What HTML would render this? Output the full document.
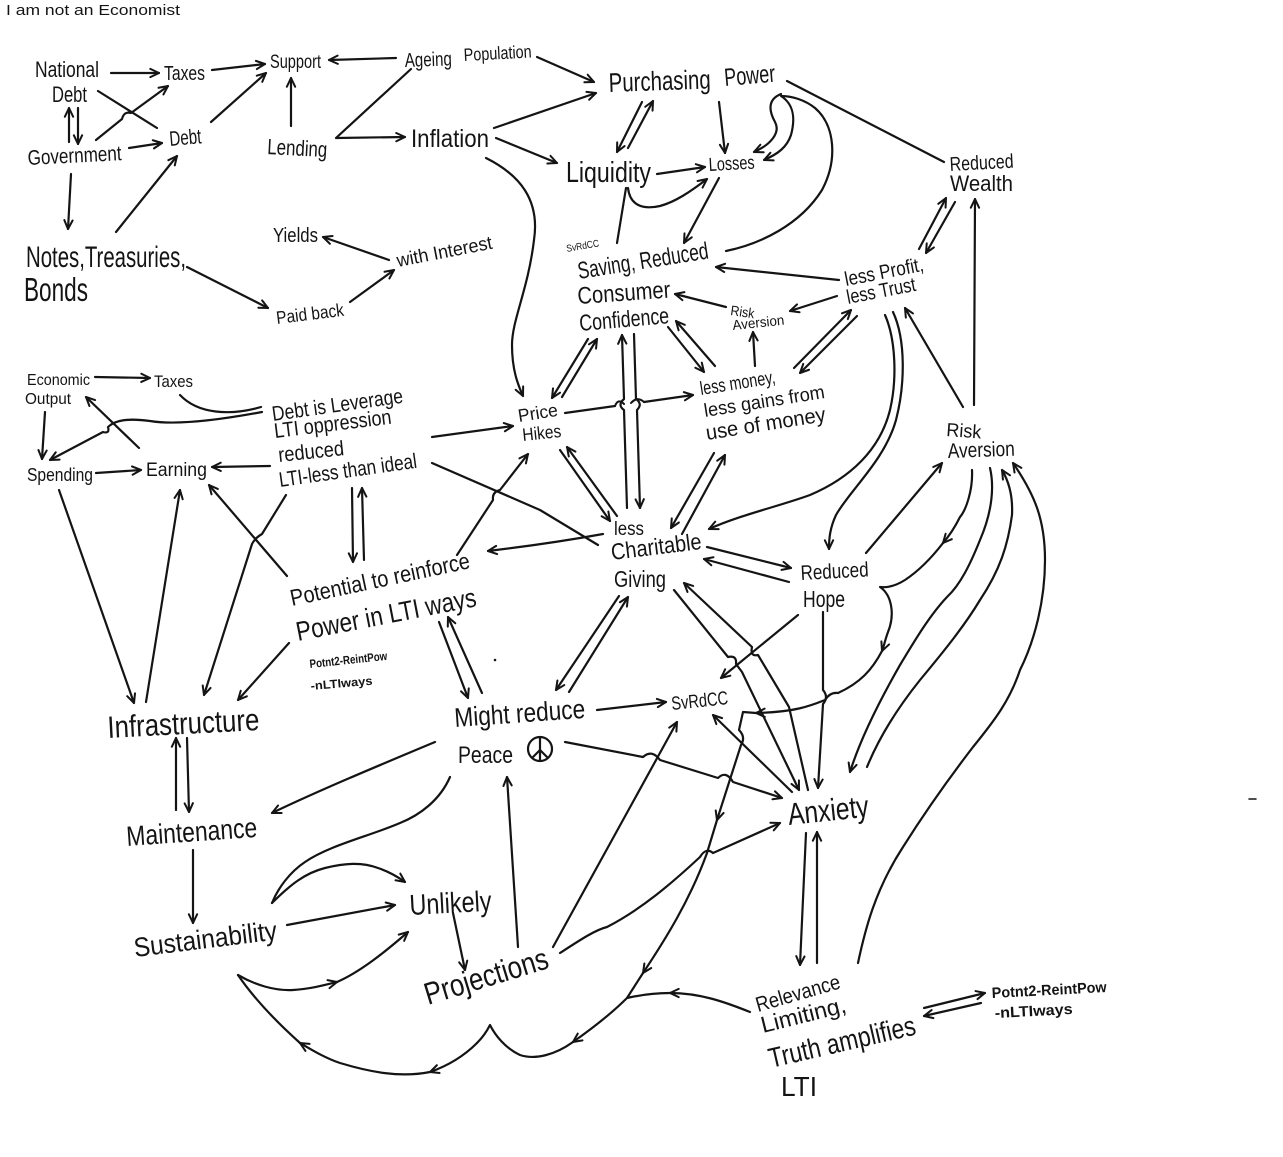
<!DOCTYPE html>
<html><head><meta charset="utf-8"><style>
html,body{margin:0;padding:0;background:#fff;}
svg{display:block;}
path{fill:none;stroke:#141414;stroke-width:2.2;stroke-linecap:round;stroke-linejoin:round;}
path.a{marker-end:url(#ar);}
text{font-family:"Liberation Sans",sans-serif;fill:#141414;}
text.b{font-weight:bold;}
</style></head><body>
<svg width="1283" height="1157" viewBox="0 0 1283 1157" xmlns="http://www.w3.org/2000/svg">
<defs>
<marker id="ar" viewBox="0 0 12 12" refX="11" refY="6" markerWidth="11" markerHeight="11" markerUnits="userSpaceOnUse" orient="auto">
<path d="M1.5,1.5 L11,6 L1.5,10.5" style="fill:none;stroke:#141414;stroke-width:2.2;stroke-linecap:round;stroke-linejoin:round;marker-end:none"/>
</marker>
</defs>
<rect width="1283" height="1157" fill="#fff"/>

<!-- ===== TEXT ===== -->
<text x="6" y="15" font-size="15" textLength="174" lengthAdjust="spacingAndGlyphs">I am not an Economist</text>
<text x="35" y="77" font-size="22" textLength="64" lengthAdjust="spacingAndGlyphs">National</text>
<text x="52" y="102" font-size="22" textLength="35" lengthAdjust="spacingAndGlyphs">Debt</text>
<text x="164" y="80" font-size="20" textLength="41" lengthAdjust="spacingAndGlyphs">Taxes</text>
<text x="270" y="68" font-size="19" textLength="51" lengthAdjust="spacingAndGlyphs">Support</text>
<text x="405" y="67" font-size="20" textLength="47" lengthAdjust="spacingAndGlyphs" transform="rotate(-2 405 67)">Ageing</text>
<text x="464" y="61" font-size="18" textLength="68" lengthAdjust="spacingAndGlyphs" transform="rotate(-3 464 61)">Population</text>
<text x="609" y="92" font-size="27" textLength="102" lengthAdjust="spacingAndGlyphs" transform="rotate(-2 609 92)">Purchasing</text>
<text x="725" y="86" font-size="25" textLength="51" lengthAdjust="spacingAndGlyphs" transform="rotate(-5 725 86)">Power</text>
<text x="28" y="165" font-size="21" textLength="94" lengthAdjust="spacingAndGlyphs" transform="rotate(-3 28 165)">Government</text>
<text x="170" y="146" font-size="21" textLength="32" lengthAdjust="spacingAndGlyphs" transform="rotate(-5 170 146)">Debt</text>
<text x="267" y="154" font-size="22" textLength="60" lengthAdjust="spacingAndGlyphs" transform="rotate(3 267 154)">Lending</text>
<text x="411" y="147" font-size="25" textLength="78" lengthAdjust="spacingAndGlyphs">Inflation</text>
<text x="566" y="182" font-size="29" textLength="85" lengthAdjust="spacingAndGlyphs">Liquidity</text>
<text x="709" y="171" font-size="19" textLength="46" lengthAdjust="spacingAndGlyphs" transform="rotate(-3 709 171)">Losses</text>
<text x="950" y="171" font-size="20" textLength="64" lengthAdjust="spacingAndGlyphs" transform="rotate(-3 950 171)">Reduced</text>
<text x="950" y="191" font-size="22" textLength="63" lengthAdjust="spacingAndGlyphs">Wealth</text>
<text x="273" y="242" font-size="20" textLength="45" lengthAdjust="spacingAndGlyphs">Yields</text>
<text x="398" y="267" font-size="19" textLength="97" lengthAdjust="spacingAndGlyphs" transform="rotate(-11 398 267)">with Interest</text>
<text x="26" y="267" font-size="30" textLength="160" lengthAdjust="spacingAndGlyphs">Notes,Treasuries,</text>
<text x="24" y="301" font-size="33" textLength="64" lengthAdjust="spacingAndGlyphs">Bonds</text>
<text x="277" y="324" font-size="18" textLength="68" lengthAdjust="spacingAndGlyphs" transform="rotate(-7 277 324)">Paid back</text>

<text x="567" y="252" font-size="10" textLength="33" lengthAdjust="spacingAndGlyphs" transform="rotate(-10 567 252)">SvRdCC</text>
<text x="579" y="279" font-size="24" textLength="132" lengthAdjust="spacingAndGlyphs" transform="rotate(-9 579 279)">Saving, Reduced</text>
<text x="578" y="304" font-size="24" textLength="93" lengthAdjust="spacingAndGlyphs" transform="rotate(-4 578 304)">Consumer</text>
<text x="580" y="331" font-size="23" textLength="90" lengthAdjust="spacingAndGlyphs" transform="rotate(-5 580 331)">Confidence</text>
<text x="730" y="315" font-size="14" textLength="24" lengthAdjust="spacingAndGlyphs" transform="rotate(8 730 315)">Risk</text>
<text x="733" y="330" font-size="14" textLength="52" lengthAdjust="spacingAndGlyphs" transform="rotate(-6 733 330)">Aversion</text>
<text x="846" y="286" font-size="20" textLength="80" lengthAdjust="spacingAndGlyphs" transform="rotate(-11 846 286)">less Profit,</text>
<text x="848" y="304" font-size="20" textLength="70" lengthAdjust="spacingAndGlyphs" transform="rotate(-11 848 304)">less Trust</text>

<text x="27" y="385" font-size="16" textLength="63" lengthAdjust="spacingAndGlyphs">Economic</text>
<text x="25" y="404" font-size="16" textLength="46" lengthAdjust="spacingAndGlyphs">Output</text>
<text x="154" y="387" font-size="17" textLength="39" lengthAdjust="spacingAndGlyphs">Taxes</text>
<text x="273" y="421" font-size="21" textLength="132" lengthAdjust="spacingAndGlyphs" transform="rotate(-8 273 421)">Debt is Leverage</text>
<text x="275" y="438" font-size="21" textLength="118" lengthAdjust="spacingAndGlyphs" transform="rotate(-7 275 438)">LTI oppression</text>
<text x="279" y="462" font-size="21" textLength="66" lengthAdjust="spacingAndGlyphs" transform="rotate(-6 279 462)">reduced</text>
<text x="280" y="487" font-size="21" textLength="139" lengthAdjust="spacingAndGlyphs" transform="rotate(-8 280 487)">LTI-less than ideal</text>
<text x="519" y="422" font-size="18" textLength="40" lengthAdjust="spacingAndGlyphs" transform="rotate(-9 519 422)">Price</text>
<text x="523" y="441" font-size="18" textLength="39" lengthAdjust="spacingAndGlyphs" transform="rotate(-6 523 441)">Hikes</text>
<text x="701" y="395" font-size="19" textLength="76" lengthAdjust="spacingAndGlyphs" transform="rotate(-9 701 395)">less money,</text>
<text x="705" y="417" font-size="19" textLength="122" lengthAdjust="spacingAndGlyphs" transform="rotate(-9 705 417)">less gains from</text>
<text x="707" y="440" font-size="21" textLength="121" lengthAdjust="spacingAndGlyphs" transform="rotate(-9 707 440)">use of money</text>
<text x="946" y="436" font-size="19" textLength="35" lengthAdjust="spacingAndGlyphs" transform="rotate(4 946 436)">Risk</text>
<text x="948" y="458" font-size="21" textLength="67" lengthAdjust="spacingAndGlyphs" transform="rotate(-2 948 458)">Aversion</text>
<text x="27" y="481" font-size="18" textLength="66" lengthAdjust="spacingAndGlyphs">Spending</text>
<text x="146" y="476" font-size="19" textLength="61" lengthAdjust="spacingAndGlyphs">Earning</text>
<text x="614" y="535" font-size="19" textLength="30" lengthAdjust="spacingAndGlyphs">less</text>
<text x="612" y="560" font-size="23" textLength="91" lengthAdjust="spacingAndGlyphs" transform="rotate(-7 612 560)">Charitable</text>
<text x="614" y="587" font-size="23" textLength="52" lengthAdjust="spacingAndGlyphs">Giving</text>
<text x="801" y="580" font-size="21" textLength="68" lengthAdjust="spacingAndGlyphs" transform="rotate(-3 801 580)">Reduced</text>
<text x="803" y="607" font-size="23" textLength="42" lengthAdjust="spacingAndGlyphs">Hope</text>
<text x="292" y="606" font-size="23" textLength="183" lengthAdjust="spacingAndGlyphs" transform="rotate(-12 292 606)">Potential to reinforce</text>
<text x="298" y="641" font-size="27" textLength="183" lengthAdjust="spacingAndGlyphs" transform="rotate(-11 298 641)">Power in LTI ways</text>
<text class="b" x="310" y="668" font-size="12" textLength="78" lengthAdjust="spacingAndGlyphs" transform="rotate(-6 310 668)">Potnt2-ReintPow</text>
<text class="b" x="311" y="690" font-size="12" textLength="62" lengthAdjust="spacingAndGlyphs" transform="rotate(-5 311 690)">-nLTIways</text>
<circle cx="495" cy="660" r="1.3" fill="#141414"/>

<text x="108" y="738" font-size="31" textLength="152" lengthAdjust="spacingAndGlyphs" transform="rotate(-3 108 738)">Infrastructure</text>
<text x="455" y="727" font-size="27" textLength="131" lengthAdjust="spacingAndGlyphs" transform="rotate(-4 455 727)">Might reduce</text>
<text x="458" y="763" font-size="24" textLength="55" lengthAdjust="spacingAndGlyphs">Peace</text>
<g style="fill:none;stroke:#141414;stroke-width:2.2">
<circle cx="540" cy="749" r="12"/>
<line x1="540" y1="737" x2="540" y2="761"/>
<line x1="540" y1="750" x2="532" y2="758"/>
<line x1="540" y1="750" x2="548" y2="758"/>
</g>
<text x="672" y="710" font-size="19" textLength="57" lengthAdjust="spacingAndGlyphs" transform="rotate(-6 672 710)">SvRdCC</text>
<text x="789" y="825" font-size="31" textLength="81" lengthAdjust="spacingAndGlyphs" transform="rotate(-6 789 825)">Anxiety</text>
<text x="127" y="846" font-size="28" textLength="131" lengthAdjust="spacingAndGlyphs" transform="rotate(-4 127 846)">Maintenance</text>
<text x="410" y="915" font-size="29" textLength="82" lengthAdjust="spacingAndGlyphs" transform="rotate(-3 410 915)">Unlikely</text>
<text x="135" y="957" font-size="27" textLength="144" lengthAdjust="spacingAndGlyphs" transform="rotate(-7 135 957)">Sustainability</text>
<text x="428" y="1005" font-size="31" textLength="128" lengthAdjust="spacingAndGlyphs" transform="rotate(-17 428 1005)">Projections</text>
<text x="758" y="1012" font-size="21" textLength="87" lengthAdjust="spacingAndGlyphs" transform="rotate(-16 758 1012)">Relevance</text>
<text x="763" y="1033" font-size="23" textLength="87" lengthAdjust="spacingAndGlyphs" transform="rotate(-14 763 1033)">Limiting,</text>
<text x="771" y="1068" font-size="28" textLength="150" lengthAdjust="spacingAndGlyphs" transform="rotate(-13 771 1068)">Truth amplifies</text>
<text x="781" y="1096" font-size="28" textLength="36" lengthAdjust="spacingAndGlyphs">LTI</text>
<text class="b" x="992" y="998" font-size="15" textLength="115" lengthAdjust="spacingAndGlyphs" transform="rotate(-3 992 998)">Potnt2-ReintPow</text>
<text class="b" x="995" y="1018" font-size="15" textLength="78" lengthAdjust="spacingAndGlyphs" transform="rotate(-3 995 1018)">-nLTIways</text>
<path d="M1249,799 L1256,799" style="stroke-width:1.5"/>

<!-- ===== CONNECTORS: top-left ===== -->
<path class="a" d="M111,73 L159,73"/>
<path class="a" d="M212,70 L265,64"/>
<path d="M98,91 L157,128"/>
<path class="a" d="M96,140 L122,119 Q124,111 131,113 L168,86"/>
<path class="a" d="M69,142 L69,108"/>
<path class="a" d="M78,108 L78,144"/>
<path class="a" d="M129,148 L162,143"/>
<path class="a" d="M211,122 L266,73"/>
<path class="a" d="M291,126 L291,78"/>
<path class="a" d="M396,58 L329,60"/>
<path class="a" d="M411,69 L336,138 L405,137"/>
<path class="a" d="M71,174 L68,229"/>
<path class="a" d="M116,232 L177,156"/>
<path class="a" d="M187,267 L268,308"/>
<path class="a" d="M350,302 L394,270"/>
<path class="a" d="M389,260 L323,237"/>

<!-- top-middle -->
<path class="a" d="M537,57 L594,82"/>
<path class="a" d="M494,128 L596,93"/>
<path class="a" d="M496,138 L557,163"/>
<path class="a" d="M486,158 C520,175 540,200 534,240 C528,290 512,320 512,345 C512,370 518,385 523,396"/>
<path class="a" d="M642,102 L617,152"/>
<path class="a" d="M628,148 L653,101"/>
<path class="a" d="M719,102 L725,153"/>
<path class="a" d="M657,174 L705,167"/>
<path class="a" d="M628,188 C630,205 642,210 660,206 C675,202 690,192 707,179"/>
<path d="M617,243 L626,188"/>
<path class="a" d="M719,178 L684,243"/>
<path d="M787,81 L944,162"/>
<path class="a" d="M781,94 C766,100 770,113 775,122 C781,133 770,145 754,152"/>
<path class="a" d="M726,251 C760,244 800,225 822,190 C838,160 835,125 815,108 C805,100 792,96 781,96 C795,105 795,120 791,135 C787,147 778,154 764,160"/>
<path class="a" d="M919,249 L946,198"/>
<path class="a" d="M955,202 L926,253"/>
<path class="a" d="M974,405 L975,199"/>
<path class="a" d="M963,407 L905,308"/>
<path class="a" d="M839,280 L716,267"/>
<path class="a" d="M837,296 L790,311"/>
<path class="a" d="M794,368 L851,310"/>
<path class="a" d="M857,316 L800,373"/>
<path class="a" d="M755,366 L753,332"/>
<path class="a" d="M726,307 L675,294"/>
<path class="a" d="M668,327 L704,372"/>
<path class="a" d="M715,366 L676,321"/>
<path class="a" d="M588,339 L552,398"/>
<path class="a" d="M562,397 L597,339"/>
<path class="a" d="M627,508 L624,410 Q617,405 624,399 L622,335"/>
<path class="a" d="M634,334 L636,399 Q643,404 637,410 L640,508"/>
<path class="a" d="M565,413 L615,406 M644,402 L693,395"/>
<path d="M615,406 Q618,398 624,404 M631,403 Q637,396 644,402" style="stroke-width:2"/>
<path class="a" d="M885,315 C896,340 897,380 890,410 C880,450 850,478 810,495 C780,506 740,515 709,529"/>
<path class="a" d="M893,312 C906,340 905,385 896,420 C885,460 850,490 836,515 C830,528 829,538 829,549"/>

<!-- left-middle -->
<path class="a" d="M95,377 L150,378"/>
<path class="a" d="M45,412 L42,459"/>
<path class="a" d="M96,473 L141,470"/>
<path class="a" d="M139,448 L86,397"/>
<path d="M180,395 C198,414 230,416 261,407"/>
<path class="a" d="M262,412 C230,418 180,426 150,421 C128,418 115,420 108,427 Q110,434 103,432 L50,460"/>
<path class="a" d="M270,466 L212,467"/>
<path class="a" d="M352,488 L353,562"/>
<path class="a" d="M364,560 L362,488"/>
<path class="a" d="M286,495 L262,534 Q255,538 252,544 L204,695"/>
<path class="a" d="M287,576 L209,485"/>
<path class="a" d="M59,490 L134,703"/>
<path class="a" d="M146,702 L180,490"/>
<path class="a" d="M289,643 L238,700"/>
<path class="a" d="M439,622 L468,698"/>
<path class="a" d="M482,693 L448,617"/>
<path class="a" d="M432,437 L513,426"/>
<path class="a" d="M457,555 L493,500 Q492,492 500,490 L528,454"/>
<path d="M432,463 L540,510 L598,545"/>
<path class="a" d="M603,534 C570,540 530,546 488,551"/>
<path class="a" d="M560,450 L610,521"/>
<path class="a" d="M617,516 L567,447"/>
<path class="a" d="M714,453 L671,528"/>
<path class="a" d="M682,534 L725,455"/>
<path class="a" d="M707,547 L791,568"/>
<path class="a" d="M789,582 L704,559"/>
<path class="a" d="M866,553 L942,463"/>

<!-- right: risk aversion curves -->
<path class="a" d="M972,470 C973,490 966,510 960,517 C955,527 950,535 943,543"/>
<path class="a" d="M943,543 C933,556 920,570 905,580 C897,585 888,588 880,587 C892,595 895,615 888,632 C885,640 884,646 882,651"/>
<path class="a" d="M882,651 C872,670 860,683 838,693 Q830,692 825,700 C810,706 795,712 756,713"/>
<path class="a" d="M756,713 L743,712 L739,730 Q746,737 741,745 L717,820"/>
<path class="a" d="M717,820 L707,853 C690,900 665,940 643,973"/>
<path class="a" d="M643,973 L627,998 C610,1015 590,1030 573,1042"/>
<path d="M573,1042 C555,1055 535,1060 520,1055 C505,1048 495,1035 490,1025 C485,1035 480,1040 477,1043"/>
<path class="a" d="M477,1043 C465,1055 450,1065 430,1072"/>
<path class="a" d="M430,1072 C400,1078 370,1072 340,1063 C325,1058 312,1050 300,1043"/>
<path d="M300,1043 C280,1025 255,1000 238,975"/>
<path class="a" d="M238,975 C255,985 275,991 293,990 C310,989 325,985 337,982"/>
<path class="a" d="M337,982 C360,972 385,952 408,932"/>
<path class="a" d="M990,468 C994,485 993,510 980,540 C970,565 960,585 947,597 C930,615 915,640 900,665 C880,700 860,740 850,772"/>
<path class="a" d="M867,767 C880,735 900,705 920,680 C945,650 965,625 980,600 C1000,570 1008,545 1012,515 C1013,495 1008,480 1002,470"/>
<path class="a" d="M858,963 C865,930 875,890 903,847 C920,820 940,790 973,747 C995,720 1010,700 1020,670 C1035,640 1045,600 1045,560 C1045,520 1035,495 1013,463"/>

<!-- lower middle -->
<path class="a" d="M798,615 L721,678"/>
<path class="a" d="M823,612 L823,690 Q829,697 823,704 L818,788"/>
<path class="a" d="M674,590 L728,657 Q737,655 736,664 L742,672 L799,790"/>
<path class="a" d="M808,790 L789,707 L758,655 Q750,657 752,647 L684,583"/>
<path class="a" d="M792,792 L713,715"/>
<path class="a" d="M597,710 L666,702"/>
<path class="a" d="M565,742 L643,757 Q652,749 660,760 L718,778 Q726,770 733,782 L782,798"/>
<path class="a" d="M553,947 L677,722"/>
<path class="a" d="M560,953 C580,940 595,930 607,927 C640,910 670,885 700,857 Q706,847 713,853 L780,823"/>
<path class="a" d="M569,692 L628,597"/>
<path class="a" d="M619,596 L556,690"/>
<path class="a" d="M806,833 L800,965"/>
<path class="a" d="M817,963 L817,832"/>
<path class="a" d="M924,1008 L985,993"/>
<path class="a" d="M981,1003 L924,1016"/>
<path class="a" d="M750,1012 C725,1002 700,993 670,993"/>
<path d="M670,993 C655,993 640,995 627,998"/>

<!-- bottom-left -->
<path class="a" d="M176,810 L176,738"/>
<path class="a" d="M187,738 L189,812"/>
<path class="a" d="M193,850 L193,923"/>
<path class="a" d="M435,742 C380,765 320,790 272,813"/>
<path d="M450,777 C440,800 420,815 400,823 C370,836 330,845 305,862 C290,872 278,888 272,903"/>
<path class="a" d="M272,903 C290,885 305,873 325,868 C345,863 362,862 378,868 C390,872 398,877 405,882"/>
<path class="a" d="M287,925 L395,905"/>
<path class="a" d="M453,913 L465,970"/>
<path class="a" d="M518,947 L507,777"/>
</svg>
</body></html>
